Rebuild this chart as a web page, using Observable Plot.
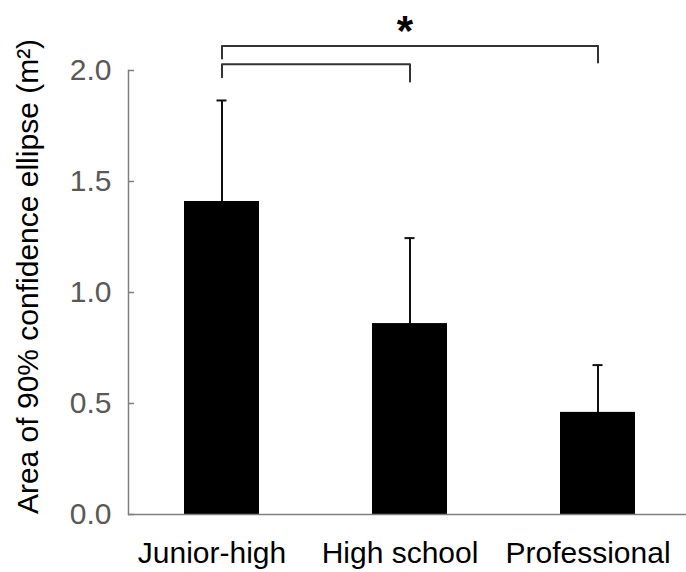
<!DOCTYPE html>
<html>
<head>
<meta charset="utf-8">
<script src="https://cdn.jsdelivr.net/npm/d3@7"></script>
<script src="https://cdn.jsdelivr.net/npm/@observablehq/plot@0.6"></script>
<style>
  html, body { margin: 0; padding: 0; background: #fff; }
  #chart { width: 686px; height: 572px; }
</style>
</head>
<body>
<div id="chart"></div>
<script>
const categories = ["Junior-high", "High school", "Professional"];
const means = [1.41, 0.86, 0.46];
const upperErr = [1.865, 1.245, 0.673];
const yTicks = [0, 0.5, 1.0, 1.5, 2.0];
const yTitle = "Area of 90% confidence ellipse (m²)";

// significance brackets
const bracketFrom = ["Junior-high", "Junior-high"];
const bracketTo = ["High school", "Professional"];
const bracketLevel = [2.028, 2.110];
const bracketLeftEnd = [1.970, 2.054];
const bracketRightEnd = [1.950, 2.036];
const starText = ["*"];
const starCategory = ["High school"];
const starLevel = [2.117];

const bars = categories.map((c, i) => ({cat: c, mean: means[i], upper: upperErr[i]}));
const bracketPts = [];
bracketFrom.forEach((f, i) => {
  bracketPts.push({id: i, cat: f, y: bracketLeftEnd[i]});
  bracketPts.push({id: i, cat: f, y: bracketLevel[i]});
  bracketPts.push({id: i, cat: bracketTo[i], y: bracketLevel[i]});
  bracketPts.push({id: i, cat: bracketTo[i], y: bracketRightEnd[i]});
});
const stars = starText.map((t, i) => ({t, cat: starCategory[i], y: starLevel[i]}));

const axisGray = "#7f7f7f";
const font = "'Liberation Sans', Arial, Helvetica, sans-serif";

const chart = Plot.plot({
  width: 686,
  height: 572,
  marginLeft: 128,
  marginRight: 0,
  marginTop: 70,
  marginBottom: 58,
  style: {fontFamily: font, fontSize: "30px", background: "#fff", overflow: "visible"},
  x: {domain: categories, range: [128, 692], paddingInner: 0.6, paddingOuter: 0.3, align: 0.5},
  y: {domain: [0, 2]},
  marks: [
    Plot.barY(bars, {x: "cat", y: "mean", fill: "#000"}),
    Plot.ruleX(bars, {x: "cat", y1: "mean", y2: "upper", stroke: "#111", strokeWidth: 2}),
    Plot.tickY(bars, {x: "cat", y: "upper", stroke: "#111", strokeWidth: 2, insetLeft: 32.5, insetRight: 32.5}),
    Plot.frame({anchor: "left", stroke: axisGray, strokeWidth: 1.5}),
    Plot.ruleY([0], {stroke: axisGray, strokeWidth: 1.5}),
    Plot.axisY({ticks: yTicks, tickSize: -6, tickPadding: 23, tickFormat: d3.format(".1f"),
      stroke: axisGray, strokeWidth: 1.5, fill: "#595959", fontSize: 30, label: null}),
    Plot.axisX({tickSize: 0, tickPadding: 27, dx: -10, fill: "#000", fontSize: 30, label: null}),
    Plot.line(bracketPts, {x: "cat", y: "y", z: "id", stroke: "#333", strokeWidth: 2, curve: "linear"}),
    Plot.text(stars, {x: "cat", y: "y", text: "t", dx: -5, fontSize: 42, fontWeight: "bold", lineAnchor: "bottom", fill: "#000"}),
    Plot.text([yTitle], {frameAnchor: "left", rotate: -90, dx: -91, dy: -16, lineAnchor: "bottom",
      textAnchor: "middle", fontSize: 30, fill: "#000"})
  ]
});
document.getElementById("chart").appendChild(chart);
</script>
</body>
</html>
